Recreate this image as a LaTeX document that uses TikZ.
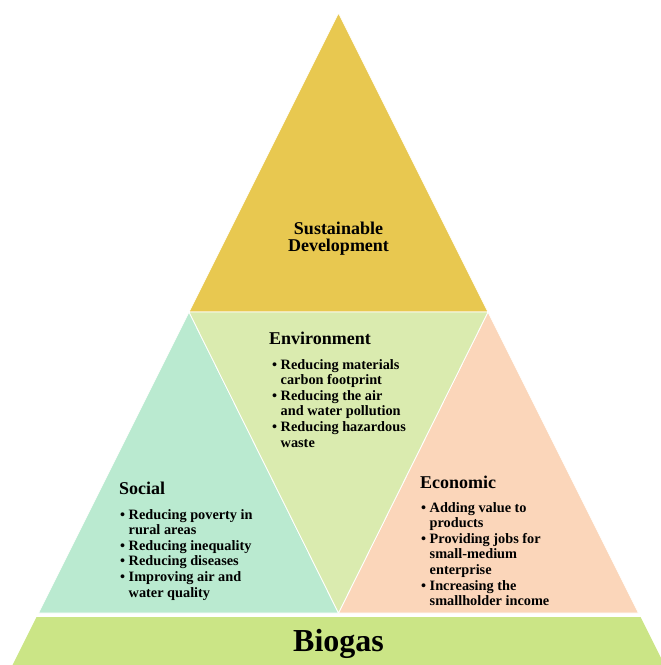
\documentclass[tikz,border=0pt]{standalone}
\usepackage{fontspec}
\setmainfont{Liberation Serif}
\definecolor{cTop}{RGB}{232,200,80}
\definecolor{cEnv}{RGB}{218,235,175}
\definecolor{cSoc}{RGB}{186,234,208}
\definecolor{cEco}{RGB}{251,214,186}
\definecolor{cBio}{RGB}{203,229,134}
\newcommand{\bitem}[1]{\makebox[8.5pt][l]{\textbullet}#1}
\newcommand{\bcont}[1]{\hspace*{8.5pt}#1}
\begin{document}
\begin{tikzpicture}[x=1pt,y=-1pt,
  face/.style={draw=white,line width=0.8pt,line join=miter},
  heading/.style={anchor=base west,inner sep=0pt,font=\bfseries\fontsize{18}{20}\selectfont},
  blist/.style={anchor=north west,inner sep=0pt,align=left,font=\bfseries\fontsize{14.3}{15.6}\selectfont},
  title/.style={inner sep=0pt,align=center,font=\bfseries\fontsize{18}{18}\selectfont}]
\useasboundingbox (0,0) rectangle (661,665);
% geometry
\coordinate (apex) at (338.5,13);
\coordinate (ml) at (189,312);
\coordinate (mr) at (488,312);
\coordinate (bl) at (38.5,613);
\coordinate (bm) at (338.5,613);
\coordinate (br) at (638.5,613);
% faces
\fill[cTop,face] (apex) -- (mr) -- (ml) -- cycle;
\fill[cSoc,face] (ml) -- (bm) -- (bl) -- cycle;
\fill[cEco,face] (mr) -- (br) -- (bm) -- cycle;
\fill[cEnv,face] (ml) -- (mr) -- (bm) -- cycle;
\fill[cBio] (36.5,617) -- (640.5,617) -- (664.5,665) -- (12.5,665) -- cycle;
% texts
\node[title] (sd) at (338.5,239) {Sustainable\\[-1pt]Development};
\node[heading] (envh) at (269,344) {Environment};
\node[blist] (envl) at (272,359) {\bitem{Reducing materials}\\\bcont{carbon footprint}\\\bitem{Reducing the air}\\\bcont{and water pollution}\\\bitem{Reducing hazardous}\\\bcont{waste}};
\node[heading] (soch) at (119,494) {Social};
\node[blist] (socl) at (120,509) {\bitem{Reducing poverty in}\\\bcont{rural areas}\\\bitem{Reducing inequality}\\\bitem{Reducing diseases}\\\bitem{Improving air and}\\\bcont{water quality}};
\node[heading] (ecoh) at (420,488) {Economic};
\node[blist] (ecol) at (421,502) {\bitem{Adding value to}\\\bcont{products}\\\bitem{Providing jobs for}\\\bcont{small-medium}\\\bcont{enterprise}\\\bitem{Increasing the}\\\bcont{smallholder income}};
\node[anchor=base,inner sep=0pt,font=\bfseries\fontsize{32}{34}\selectfont] (bio) at (338.5,651) {Biogas};
\end{tikzpicture}
\end{document}
